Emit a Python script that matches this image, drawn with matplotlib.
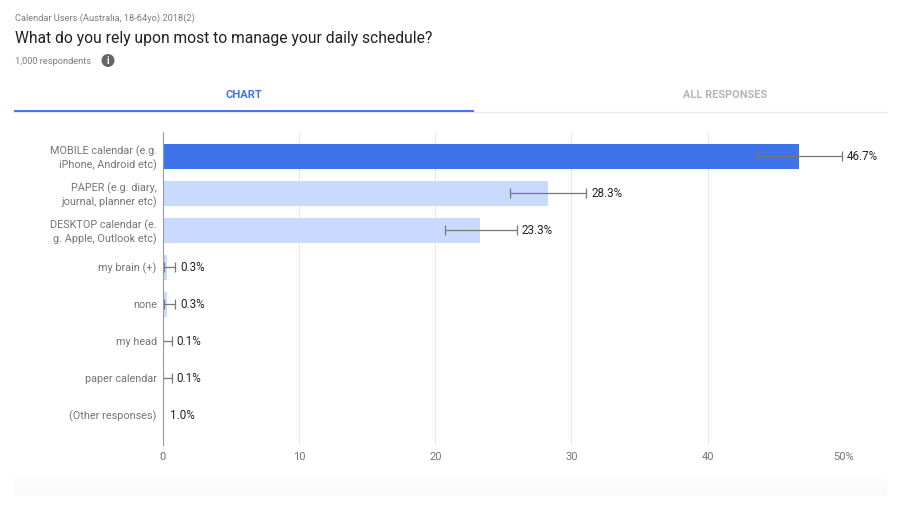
import matplotlib
matplotlib.use('Agg')
import matplotlib.pyplot as plt
from matplotlib.patches import Circle
from matplotlib.transforms import ScaledTranslation
import numpy as np

plt.rcParams['font.family'] = ['Roboto', 'DejaVu Sans']

# 数据
labels = ['MOBILE calendar (e.g.\niPhone, Android etc)', 'PAPER (e.g. diary,\njournal, planner etc)',
          'DESKTOP calendar (e.\ng. Apple, Outlook etc)', 'my brain (+)', 'none', 'my head',
          'paper calendar', '(Other responses)']
values = [46.7, 28.3, 23.3, 0.3, 0.3, 0.1, 0.1, 1.0]
has_bar = [True, True, True, True, True, True, True, False]
err_low = [43.6, 25.5, 20.7, 0.1, 0.1, 0.0, 0.0, None]
err_high = [49.9, 31.1, 26.0, 0.9, 0.9, 0.65, 0.65, None]
value_labels = ['46.7%', '28.3%', '23.3%', '0.3%', '0.3%', '0.1%', '0.1%', '1.0%']
xticks = [0, 10, 20, 30, 40, 50]
xtick_labels = ['0', '10', '20', '30', '40', '50%']

W, H = 900, 510
BLUE = '#3f73ea'
LIGHT = '#c8daff'
GRAY = '#757575'

fig = plt.figure(figsize=(W / 100, H / 100), dpi=100)
bg = fig.add_axes([0, 0, 1, 1])
bg.axis('off')

# 底部淡色渐变
grad = np.linspace(1, 0.975, 30).reshape(-1, 1)
bg.imshow(grad, extent=[14, 887, 497, 470], cmap='gray', vmin=0, vmax=1, aspect='auto', zorder=0)
bg.set_xlim(0, W)
bg.set_ylim(H, 0)

# 顶部文字
bg.text(15, 18.5, 'Calendar Users (Australia, 18-64yo) 2018(2)', fontsize=6.7, color='#7d7d7d', va='center')
bg.text(15, 38, 'What do you rely upon most to manage your daily schedule?', fontsize=11.27, color='#212121', va='center')
bg.text(15, 61.5, '1,000 respondents', fontsize=6.7, color='#7d7d7d', va='center')
bg.add_patch(Circle((108, 61.5), 6.5, color='#666666', lw=0))
bg.text(108, 61.5, 'i', fontsize=7, color='white', ha='center', va='center', fontweight='bold')

# 标签页
bg.text(243.5, 95.5, 'CHART', fontsize=8, color=BLUE, ha='center', va='center', fontweight='bold')
bg.text(725.5, 95.5, 'ALL RESPONSES', fontsize=7.9, color='#b5b5b5', ha='center', va='center', fontweight='bold')
bg.plot([13, 887], [112.5, 112.5], color='#e9e9e9', lw=0.9)
bg.plot([15, 473], [111.5, 111.5], color=BLUE, lw=1.4)

# 图表
left, right, top, bottom = 163, 843.7, 133, 446
ax = fig.add_axes([left / W, 1 - bottom / H, (right - left) / W, (bottom - top) / H])
ax.patch.set_alpha(0)
y = np.arange(len(labels))
ax.set_xlim(0, 50)
ax.set_ylim(7.8, -0.66)
colors = [BLUE] + [LIGHT] * (len(labels) - 1)
ax.barh(y, [v if b else 0 for v, b in zip(values, has_bar)], height=0.67, color=colors, zorder=2)

for i in range(len(labels)):
    if err_low[i] is not None:
        ax.errorbar(values[i], y[i], xerr=[[values[i] - err_low[i]], [err_high[i] - values[i]]],
                    color='#777777', lw=0.9, capsize=3.4, capthick=0.9, zorder=3)
        ax.text(err_high[i] + 0.35, y[i] - 0.02, value_labels[i], fontsize=8.4, color='#222222', va='center')
    else:
        ax.text(values[i] - 0.45, y[i] - 0.02, value_labels[i], fontsize=8.4, color='#222222', va='center')

ax.set_xticks(xticks)
ax.set_xticklabels(xtick_labels, fontsize=8, color=GRAY)
ax.set_yticks(y)
ax.set_yticklabels(labels, fontsize=7.85, color=GRAY, linespacing=1.2)
ax.tick_params(axis='both', length=0)
ax.tick_params(axis='x', pad=4)
ax.tick_params(axis='y', pad=4.5)
ax.xaxis.grid(True, color='#e8e8e8', lw=0.8, zorder=0)
ax.set_axisbelow(True)
for s in ['top', 'right', 'bottom']:
    ax.spines[s].set_visible(False)
ax.spines['left'].set_color('#9a9a9a')
ax.spines['left'].set_linewidth(0.8)
ax.spines['left'].set_zorder(4)
shift = ScaledTranslation(0, 1.2 / 100, fig.dpi_scale_trans)
for t in ax.get_yticklabels():
    t.set_multialignment('right')
    t.set_transform(t.get_transform() + shift)

fig.savefig('out.png', dpi=100)
